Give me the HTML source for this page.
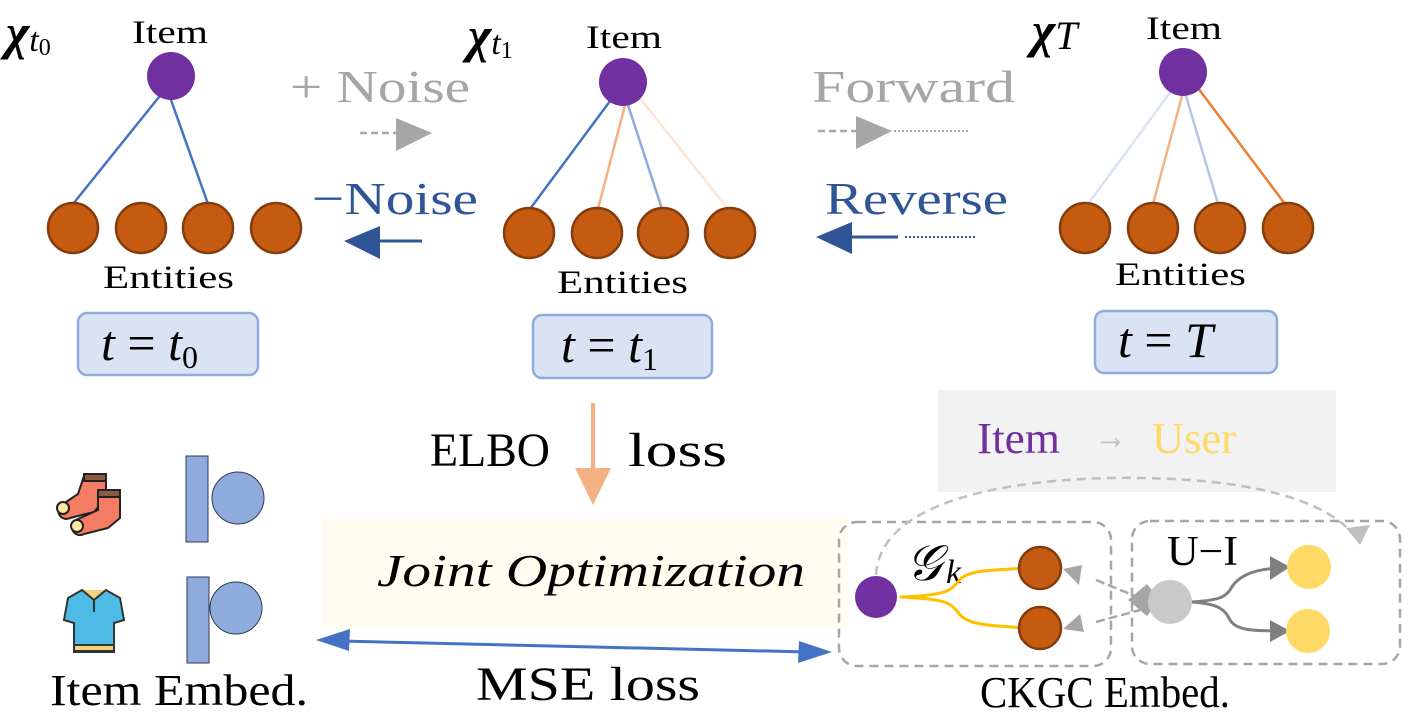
<!DOCTYPE html>
<html><head><meta charset="utf-8"><style>
html,body{margin:0;padding:0;background:#fff;}
svg{display:block;font-family:"Liberation Serif","DejaVu Serif",serif;}
</style></head><body>
<svg width="1413" height="719" viewBox="0 0 1413 719" xmlns="http://www.w3.org/2000/svg">
<rect x="322" y="518" width="526" height="110" fill="#fffcf0"/>
<rect x="938" y="390" width="398" height="102" fill="#f2f2f2"/>

<g stroke-width="2.5">
<line x1="163" y1="92" x2="73" y2="204" stroke="#4472c4"/>
<line x1="171" y1="100" x2="208" y2="204" stroke="#4472c4"/>
<line x1="613" y1="97" x2="530" y2="209" stroke="#4472c4"/>
<line x1="625" y1="105" x2="598" y2="209" stroke="#f4b183"/>
<line x1="628" y1="105" x2="662" y2="209" stroke="#8faadc"/>
<line x1="640" y1="98" x2="728" y2="209" stroke="#fbe5d6"/>
<line x1="1172" y1="90" x2="1088" y2="204" stroke="#dae3f3"/>
<line x1="1182" y1="96" x2="1153" y2="204" stroke="#f4b183"/>
<line x1="1186" y1="96" x2="1218" y2="204" stroke="#b4c7e7"/>
<line x1="1198" y1="88" x2="1285" y2="204" stroke="#ed7d31"/>
</g>
<g fill="#7030a0">
<circle cx="171" cy="76" r="24"/><circle cx="623" cy="82" r="24"/><circle cx="1183" cy="72" r="24"/>
</g>
<g fill="#c55a11" stroke="#843c0c" stroke-width="2.5">
<circle cx="73" cy="228" r="25"/><circle cx="141" cy="228" r="25"/><circle cx="208" cy="228" r="25"/><circle cx="276" cy="228" r="25"/>
<circle cx="529" cy="233" r="25"/><circle cx="597" cy="233" r="25"/><circle cx="663" cy="233" r="25"/><circle cx="730" cy="233" r="25"/>
<circle cx="1085" cy="228" r="25"/><circle cx="1153" cy="228" r="25"/><circle cx="1220" cy="228" r="25"/><circle cx="1288" cy="228" r="25"/>
</g>
<g font-size="33" fill="#000">
<text x="132" y="43" textLength="76" lengthAdjust="spacingAndGlyphs">Item</text>
<text x="586" y="48" textLength="76" lengthAdjust="spacingAndGlyphs">Item</text>
<text x="1146" y="39" textLength="76" lengthAdjust="spacingAndGlyphs">Item</text>
<text x="103" y="288" textLength="131" lengthAdjust="spacingAndGlyphs">Entities</text>
<text x="557" y="293" textLength="131" lengthAdjust="spacingAndGlyphs">Entities</text>
<text x="1115" y="285" textLength="131" lengthAdjust="spacingAndGlyphs">Entities</text>
</g>
<g font-size="50" font-style="italic" font-weight="bold">
<text x="6" y="49">χ<tspan font-size="34" font-weight="normal" dy="2">t</tspan><tspan font-size="24" font-weight="normal" font-style="normal" dy="4">0</tspan></text>
<text x="468" y="52">χ<tspan font-size="34" font-weight="normal" dy="2">t</tspan><tspan font-size="24" font-weight="normal" font-style="normal" dy="4">1</tspan></text>
<text x="1032" y="47">χ<tspan font-size="40" font-weight="normal" dy="2">T</tspan></text>
</g>
<g fill="#dae3f3" stroke="#8faadc" stroke-width="2.5">
<rect x="78" y="313" width="180" height="62" rx="9"/>
<rect x="533" y="315" width="179" height="63" rx="9"/>
<rect x="1095" y="311" width="182" height="62" rx="9"/>
</g>
<g font-size="50" font-style="italic">
<text x="101" y="360">t <tspan font-style="normal">=</tspan> t<tspan font-size="32" font-style="normal" dy="8">0</tspan></text>
<text x="561" y="362">t <tspan font-style="normal">=</tspan> t<tspan font-size="32" font-style="normal" dy="8">1</tspan></text>
<text x="1118" y="357">t <tspan font-style="normal">=</tspan> T</text>
</g>

<text x="290" y="102" font-size="46" fill="#a6a6a6" textLength="180" lengthAdjust="spacingAndGlyphs">+ Noise</text>
<line x1="360" y1="133" x2="398" y2="133" stroke="#a6a6a6" stroke-width="2.5" stroke-dasharray="7,4"/>
<path d="M396,118 L432,133 L396,151z" fill="#a6a6a6"/>
<text x="312" y="214" font-size="46" fill="#2f5597" textLength="166" lengthAdjust="spacingAndGlyphs">−Noise</text>
<line x1="378" y1="241" x2="422" y2="241" stroke="#2f5597" stroke-width="3"/>
<path d="M344,241 L380,226 L380,259z" fill="#2f5597"/>

<text x="812" y="102" font-size="46" fill="#a6a6a6" textLength="203" lengthAdjust="spacingAndGlyphs">Forward</text>
<line x1="818" y1="131" x2="858" y2="131" stroke="#a6a6a6" stroke-width="2.5" stroke-dasharray="7,4"/>
<path d="M856,116 L892,131 L856,149z" fill="#a6a6a6"/>
<line x1="894" y1="131" x2="968" y2="131" stroke="#a6a6a6" stroke-width="2" stroke-dasharray="2,2"/>
<text x="825" y="214" font-size="46" fill="#2f5597" textLength="183" lengthAdjust="spacingAndGlyphs">Reverse</text>
<line x1="850" y1="237" x2="898" y2="237" stroke="#2f5597" stroke-width="3"/>
<path d="M816,237 L852,222 L852,254z" fill="#2f5597"/>
<line x1="905" y1="237" x2="976" y2="237" stroke="#2f5597" stroke-width="2" stroke-dasharray="2,2"/>

<line x1="593" y1="403" x2="593" y2="470" stroke="#f4b183" stroke-width="4"/>
<path d="M575,468 L611,468 L593,505z" fill="#f4b183"/>
<text x="430" y="466" font-size="48" textLength="120" lengthAdjust="spacingAndGlyphs">ELBO</text>
<text x="628" y="466" font-size="48" textLength="99" lengthAdjust="spacingAndGlyphs">loss</text>

<text x="377" y="586" font-size="46" font-style="italic" textLength="428" lengthAdjust="spacingAndGlyphs">Joint Optimization</text>

<line x1="340" y1="641" x2="808" y2="652" stroke="#4472c4" stroke-width="3"/>
<path d="M316,640 L350,629 L349,651z" fill="#4472c4"/>
<path d="M832,652 L798,663 L799,641z" fill="#4472c4"/>
<text x="476" y="700" font-size="48" textLength="224" lengthAdjust="spacingAndGlyphs">MSE loss</text>

<g fill="#8faadc" stroke="#2f3b55" stroke-width="1">
<rect x="186" y="456" width="22" height="86"/>
<circle cx="238" cy="498" r="26"/>
<rect x="187" y="577" width="22" height="86"/>
<circle cx="236" cy="608" r="26"/>
</g>
<g stroke="#222" stroke-width="2">
<path d="M84,476 h22 v22 l-12,14 l-24,6 a8,8 0 0 1 -10,-12 l18,-12z" fill="#f47c64"/>
<rect x="84" y="474" width="22" height="7" fill="#8b5a44"/>
<path d="M98,492 h22 v26 l-12,10 l-24,6 a8,8 0 0 1 -8,-14 l22,-10z" fill="#f47c64"/>
<rect x="98" y="490" width="22" height="7" fill="#8b5a44"/>
<circle cx="63" cy="508" r="6" fill="#ffe8a0"/>
<circle cx="77" cy="526" r="6" fill="#ffe8a0"/>
</g>
<g stroke="#333" stroke-width="2">
<path d="M82,590 l-14,8 l-4,22 l10,3 v29 h40 v-29 l10,-3 l-4,-22 l-14,-8 l-12,8z" fill="#4dbbe6"/>
<path d="M82,590 l12,10 l12,-10" fill="#f2d27a"/>
<rect x="74" y="645" width="40" height="6" fill="#f2d27a"/>
<line x1="94" y1="600" x2="94" y2="612"/>
</g>
<text x="50" y="705" font-size="44" textLength="258" lengthAdjust="spacingAndGlyphs">Item Embed.</text>

<text x="977" y="453" font-size="44" fill="#7030a0" textLength="83" lengthAdjust="spacingAndGlyphs">Item</text>
<text x="1094" y="449" font-size="40" fill="#bfbfbf" textLength="33" lengthAdjust="spacingAndGlyphs">→</text>
<text x="1152" y="453" font-size="44" fill="#ffd966" textLength="84" lengthAdjust="spacingAndGlyphs">User</text>
<g fill="none" stroke="#a6a6a6" stroke-width="2.5" stroke-dasharray="9,6">
<rect x="839" y="522" width="272" height="144" rx="18"/>
<rect x="1132" y="521" width="268" height="143" rx="18"/>
</g>
<path d="M876,575 C880,500 1010,480 1110,478 C1250,476 1330,500 1358,540" fill="none" stroke="#bfbfbf" stroke-width="2.5" stroke-dasharray="9,6"/>
<path d="M1346,528 L1370,525 L1360,545z" fill="#bfbfbf"/>
<text x="906" y="580" font-size="50" font-style="italic" fill="#000">𝒢</text>
<text x="946" y="583" font-size="34" font-style="italic">k</text>
<g fill="none" stroke="#ffc000" stroke-width="3">
<path d="M900,597 C950,595 950,590 958,582 C965,570 990,570 1030,568"/>
<path d="M900,597 C950,599 950,604 958,612 C965,625 990,626 1030,628"/>
</g>
<path d="M1020,557 L1040,568 L1020,580z" fill="#ffc000"/>
<path d="M1020,617 L1040,628 L1020,640z" fill="#ffc000"/>
<circle cx="876" cy="597" r="21" fill="#7030a0"/>
<g fill="#c55a11" stroke="#843c0c" stroke-width="2.5">
<circle cx="1040" cy="568" r="21"/><circle cx="1040" cy="628" r="21"/>
</g>
<g stroke="#a6a6a6" stroke-width="2.5" stroke-dasharray="9,4">
<line x1="1096" y1="580" x2="1140" y2="598"/>
<line x1="1096" y1="622" x2="1140" y2="610"/>
</g>
<path d="M1063,569 L1082,565 L1079,585z" fill="#a6a6a6"/>
<path d="M1063,629 L1080,614 L1084,632z" fill="#a6a6a6"/>
<path d="M1147,584 L1128,600 L1147,616 L1160,600z" fill="#a6a6a6"/>
<circle cx="1170" cy="602" r="22" fill="#c9c9c9"/>
<g fill="none" stroke="#808080" stroke-width="3">
<path d="M1192,602 C1220,600 1225,597 1230,590 C1236,578 1250,568 1284,568"/>
<path d="M1192,602 C1220,604 1225,610 1230,620 C1236,630 1250,631 1284,631"/>
</g>
<path d="M1270,556 L1290,567 L1270,580z" fill="#808080"/>
<path d="M1270,620 L1290,631 L1270,642z" fill="#808080"/>
<circle cx="1309" cy="567" r="22" fill="#ffd966"/>
<circle cx="1308" cy="631" r="22" fill="#ffd966"/>
<text x="1167" y="565" font-size="42" textLength="71" lengthAdjust="spacingAndGlyphs">U−I</text>
<text x="980" y="707" font-size="44" textLength="250" lengthAdjust="spacingAndGlyphs">CKGC Embed.</text>
</svg>
</body></html>
